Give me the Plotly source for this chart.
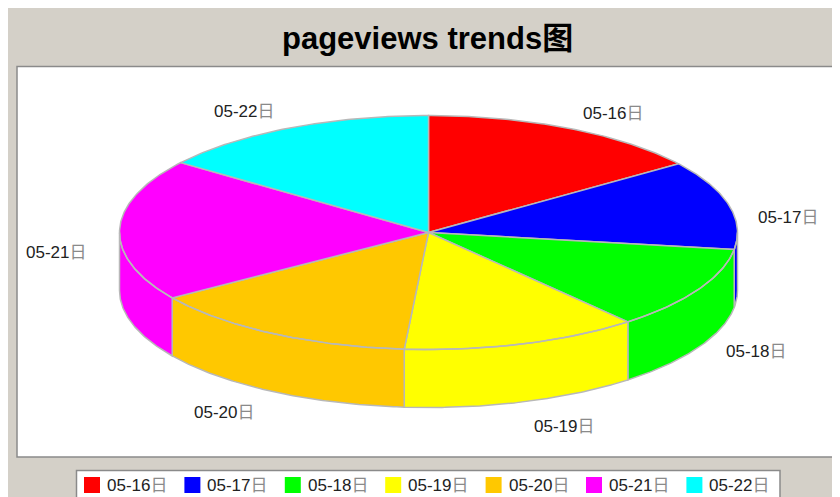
import math
import plotly.graph_objects as go

categories = ["05-16日", "05-17日", "05-18日", "05-19日", "05-20日", "05-21日", "05-22日"]
pageviews = [150, 123, 115, 124, 143, 196, 148]
colors = ["#ff0000", "#0000ff", "#00ff00", "#ffff00", "#ffc800", "#ff00ff", "#00ffff"]
title_text = "pageviews trends图"

# The page has an 8 px body margin; the figure starts there.
OFF = 8
W, H = 832, 489
CX, CY, RX, RY, DEPTH = 428.5, 232.5, 309, 117, 58
label_xy = [(613, 113), (788, 217), (756, 351), (564, 426), (224, 412), (56, 252), (244, 111)]
LEG_X0, LEG_PITCH, LEG_Y = 92, 100.4, 485
LEG_TEXT_GAP = 15
EDGE = "#b8b8b8"
FONT = "Liberation Sans, Arial, Noto Sans CJK SC, sans-serif"


def pt(deg, dy=0):
    a = math.radians(deg)
    return CX + RX * math.sin(a), CY - RY * math.cos(a) + dy


def arc(a0, a1, dy=0):
    n = max(2, int(abs(a1 - a0) * 2))
    return [pt(a0 + (a1 - a0) * i / n, dy) for i in range(n + 1)]


def styled(txt):
    return txt.replace("日", '<span style="color:#8a8a8a">日</span>')


fig = go.Figure()
total = sum(pageviews)
start = 0.0
for name, v, c in zip(categories, pageviews, colors):
    end = start + v / total * 360
    top = [(CX, CY)] + arc(start, end) + [(CX, CY)]
    s0, s1 = max(start, 90), min(end, 270)
    pts = []
    if s1 > s0:
        pts = arc(s0, s1) + arc(s1, s0, DEPTH)
        pts.append(pts[0])
        pts.append((None, None))
    pts += top
    fig.add_trace(go.Scatter(
        x=[p[0] for p in pts], y=[p[1] for p in pts],
        mode="lines", fill="toself", fillcolor=c,
        line=dict(color=EDGE, width=1.5), showlegend=False, hoverinfo="skip", name=name))
    start = end

leg_x = [LEG_X0 + LEG_PITCH * i for i in range(len(categories))]
fig.add_trace(go.Scatter(
    x=leg_x, y=[LEG_Y] * len(categories), mode="markers", showlegend=False, hoverinfo="skip",
    marker=dict(symbol="square", size=16, color=colors, line=dict(width=0))))

annotations = [
    dict(x=lx, y=ly, text=styled(n), showarrow=False, xref="x", yref="y",
         font=dict(family=FONT, size=17, color="#222222"))
    for n, (lx, ly) in zip(categories, label_xy)
]
annotations += [
    dict(x=lx + LEG_TEXT_GAP, y=LEG_Y, text=styled(n), showarrow=False, xref="x", yref="y",
         xanchor="left", xshift=-2,
         font=dict(family=FONT, size=17, color="#222222"))
    for n, lx in zip(categories, leg_x)
]
annotations.append(dict(x=427, y=38, text=title_text, showarrow=False, xref="x", yref="y",
                        font=dict(family=FONT, size=31, color="#000000", weight="bold")))

fig.update_layout(
    width=W, height=H, autosize=False,
    margin=dict(l=0, r=0, t=0, b=0),
    paper_bgcolor="#d4d0c8", plot_bgcolor="#d4d0c8",
    xaxis=dict(range=[OFF, OFF + W], visible=False, fixedrange=True),
    yaxis=dict(range=[OFF + H, OFF], visible=False, fixedrange=True),
    shapes=[
        dict(type="rect", x0=17, y0=66.5, x1=OFF + W + 5, y1=457, xref="x", yref="y", layer="below",
             fillcolor="#ffffff", line=dict(color="#8a8a8a", width=1.5)),
        dict(type="rect", x0=76.5, y0=470.5, x1=780, y1=OFF + H + 5, xref="x", yref="y", layer="below",
             fillcolor="#ffffff", line=dict(color="#8a8a8a", width=1.5)),
    ],
    annotations=annotations,
    showlegend=False,
)
fig.write_html("out.html", post_script="document.documentElement.style.overflow='hidden';")
